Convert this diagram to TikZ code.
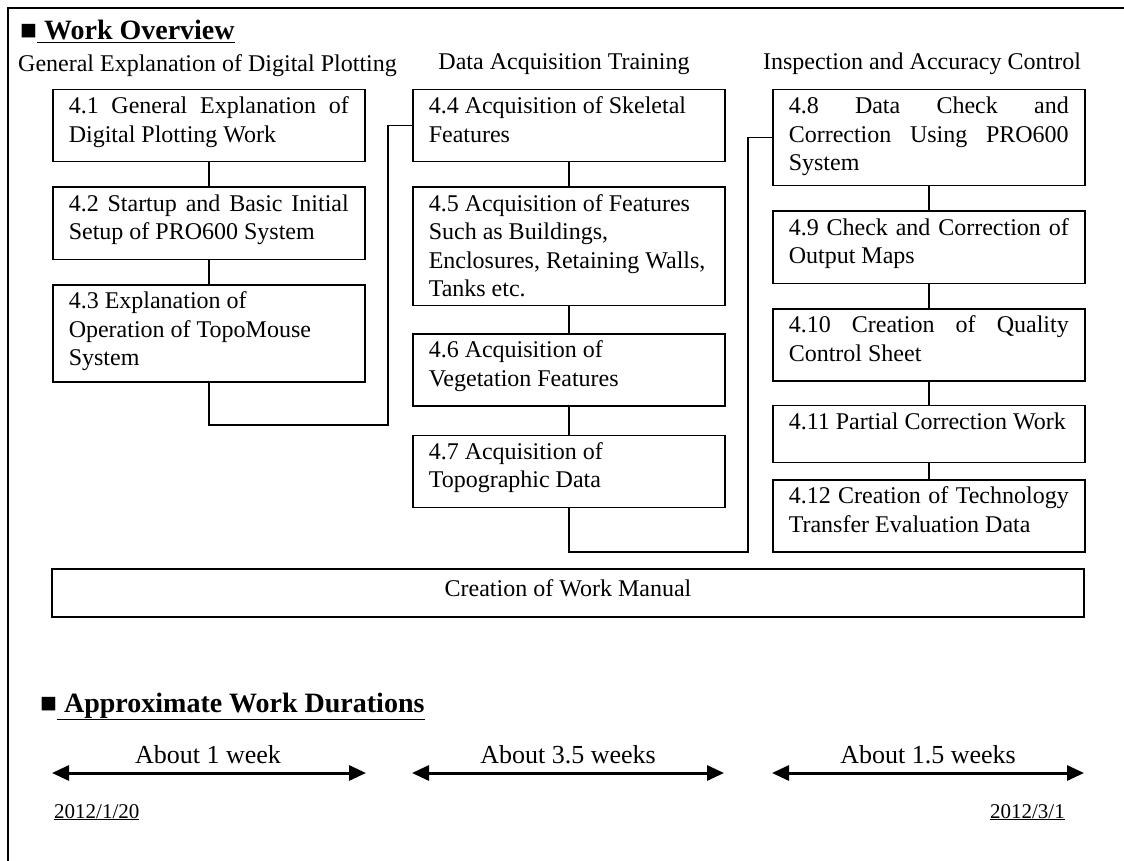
\documentclass[tikz,border=0pt]{standalone}
\usepackage{fontspec}
\setmainfont{Liberation Serif}
\usetikzlibrary{positioning,arrows.meta}
\hyphenpenalty=10000
\tikzset{stage/.style={draw, line width=1.5pt, anchor=north west, text width=280pt,
    inner xsep=16pt, inner ysep=6pt, text height=18pt, text depth=#1, align=justify,
    font=\fontsize{24}{28.5}\selectfont},
  link/.style={line width=1.5pt},
  head/.style={anchor=base, inner sep=0pt, font=\fontsize{24}{28.5}\selectfont},
  title/.style={anchor=base west, inner sep=0pt, font=\fontsize{28}{32}\selectfont\bfseries},
  dur/.style={<->, >={Triangle[length=17pt,width=15pt]}, line width=3pt},
  durlabel/.style={anchor=base, inner sep=0pt, font=\fontsize{26}{30}\selectfont},
  date/.style={inner sep=0pt, font=\fontsize{21}{25}\selectfont}}

\begin{document}
\begin{tikzpicture}[x=1pt,y=-1pt]
	\useasboundingbox (0,0) rectangle (1124,861);
	\draw[line width=2.5pt] (1124,8) -| (8,861);

	\node[title] (ov) at (20,40) {■\underline{\ Work Overview}};
	\node[head, anchor=base west] (h1) at (18,72) {General Explanation of Digital Plotting};
	\node[head] (h2) at (564,70) {Data Acquisition Training};
	\node[head] (h3) at (922,70) {Inspection and Accuracy Control};

	% digital plotting
	\node[stage=42pt] (s41) at (52,89) {4.1 General Explanation of\linebreak Digital Plotting Work};
	\node[stage=42pt, below=24pt of s41] (s42) {4.2 Startup and Basic Initial\linebreak Setup of PRO600 System};
	\node[stage=67pt, below=24pt of s42] (s43) {4.3 Explanation of\\ Operation of TopoMouse\\ System};

	% data acquisition
	\node[stage=42pt] (s44) at (412,89) {4.4 Acquisition of Skeletal\\ Features};
	\node[stage=88pt, below=24pt of s44] (s45) {4.5 Acquisition of Features\\ Such as Buildings,\\ Enclosures, Retaining Walls,\\ Tanks etc.};
	\node[stage=42pt, below=27pt of s45] (s46) {4.6 Acquisition of\\ Vegetation Features};
	\node[stage=42pt, below=28pt of s46] (s47) {4.7 Acquisition of\\ Topographic Data};

	% inspection
	\node[stage=66pt] (s48) at (772,89) {4.8 Data Check and\linebreak Correction Using PRO600\linebreak System};
	\node[stage=42pt, below=24pt of s48] (s49) {4.9 Check and Correction of\linebreak Output Maps};
	\node[stage=42pt, below=24pt of s49] (s410) {4.10 Creation of Quality\linebreak Control Sheet};
	\node[stage=27pt, below=23pt of s410] (s411) {4.11 Partial Correction Work};
	\node[stage=42pt, below=16pt of s411] (s412) {4.12 Creation of Technology\linebreak Transfer Evaluation Data};

	\node[draw, line width=1.5pt, minimum width=1032pt, minimum height=48pt, inner sep=0pt,
		text height=18pt, text depth=12pt, font=\fontsize{24}{28.5}\selectfont] (manual) at (568,593) {Creation of Work Manual};

	\coordinate (j1) at (388,425);
	\coordinate (j2) at (748,552);
	\draw[link] (s41) -- (s42);
	\draw[link] (s42) -- (s43);
	\draw[link] (s43.south) |- (j1) |- (s44.west);
	\draw[link] (s44) -- (s45);
	\draw[link] (s45) -- (s46);
	\draw[link] (s46) -- (s47);
	\draw[link] (s47.south) |- (j2) |- (s48.west);
	\draw[link] (s48) -- (s49);
	\draw[link] (s49) -- (s410);
	\draw[link] (s410) -- (s411);
	\draw[link] (s411) -- (s412);

	% durations
	\node[title] (du) at (40,712) {■\underline{\ Approximate Work Durations}};
	\coordinate (w1a) at (52,773);
	\coordinate (w1b) at (366,773);
	\coordinate (w2a) at (412,773);
	\coordinate (w2b) at (724,773);
	\coordinate (w3a) at (772,773);
	\coordinate (w3b) at (1084,773);
	\draw[dur] (w1a) -- (w1b);
	\draw[dur] (w2a) -- (w2b);
	\draw[dur] (w3a) -- (w3b);
	\node[durlabel] (d1) at (208,763) {About 1 week};
	\node[durlabel] (d2) at (568,763) {About 3.5 weeks};
	\node[durlabel] (d3) at (928,763) {About 1.5 weeks};
	\node[date, anchor=base west] (t0) at (54,818) {\underline{2012/1/20}};
	\node[date, anchor=base east] (t1) at (1065,818) {\underline{2012/3/1}};
\end{tikzpicture}
\end{document}
